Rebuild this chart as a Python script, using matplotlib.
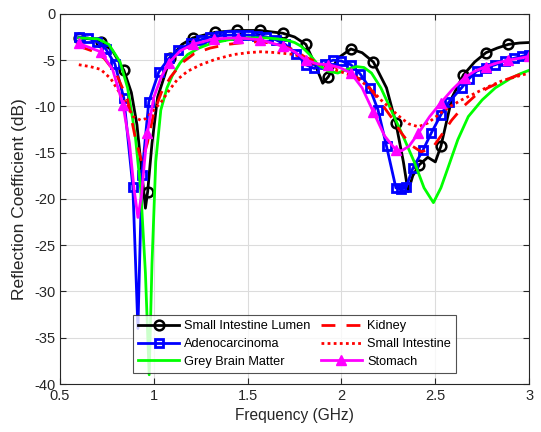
import matplotlib
matplotlib.use("Agg")
import matplotlib.pyplot as plt
import numpy as np

plt.rcParams["font.family"] = ["Liberation Sans", "DejaVu Sans"]
plt.rcParams["axes.unicode_minus"] = False

# Small Intestine Lumen
sil_f = [0.6, 0.66, 0.716, 0.78, 0.84, 0.88, 0.91, 0.935, 0.955, 0.967, 0.99, 1.02,
         1.087, 1.15, 1.208, 1.326, 1.443, 1.565, 1.688, 1.75, 1.81, 1.86, 1.90, 1.93,
         1.98, 2.05, 2.11, 2.17, 2.24, 2.29, 2.33, 2.355, 2.38, 2.415, 2.46, 2.5, 2.53,
         2.59, 2.65, 2.71, 2.77, 2.83, 2.89, 2.95, 3.0]
sil_db = [-2.6, -2.7, -3.0, -4.0, -6.1, -8.5, -12.0, -17.0, -21.0, -19.2, -14.0, -9.0,
          -4.8, -3.3, -2.6, -2.0, -1.8, -1.8, -2.1, -2.5, -3.3, -5.5, -7.5, -6.8,
          -4.8, -3.8, -4.2, -5.2, -8.0, -11.8, -16.0, -19.2, -17.5, -16.3, -15.5, -16.0, -14.3,
          -9.0, -6.6, -5.2, -4.2, -3.7, -3.3, -3.15, -3.1]
sil_marks = [0.6, 0.716, 0.84, 0.967, 1.087, 1.208, 1.326, 1.443, 1.565, 1.688, 1.81,
             1.93, 2.05, 2.17, 2.29, 2.415, 2.53, 2.65, 2.77, 2.89]

# Adenocarcinoma
ade_f = [0.6, 0.648, 0.696, 0.744, 0.792, 0.84, 0.888, 0.915, 0.936, 0.973, 1.026, 1.08,
         1.13, 1.197, 1.25, 1.3, 1.35, 1.4, 1.45, 1.5, 1.55, 1.6, 1.65, 1.7, 1.76, 1.81,
         1.855, 1.91, 1.955, 2.0, 2.05, 2.1, 2.15, 2.195, 2.24, 2.29, 2.315, 2.345, 2.38,
         2.435, 2.478, 2.53, 2.574, 2.64, 2.68, 2.72, 2.77, 2.82, 2.87, 2.92, 2.96, 3.0]
ade_db = [-2.5, -2.6, -3.0, -3.8, -5.4, -9.1, -18.7, -34.0, -17.4, -9.5, -6.3, -4.8,
          -3.9, -3.2, -2.8, -2.5, -2.35, -2.3, -2.3, -2.3, -2.35, -2.5, -2.8, -3.3, -4.3, -5.5,
          -5.9, -5.4, -5.0, -5.1, -5.5, -6.5, -8.0, -10.4, -14.3, -18.8, -18.9, -18.7, -16.7,
          -14.7, -12.9, -10.9, -9.5, -8.0, -7.0, -6.2, -5.8, -5.5, -5.1, -4.8, -4.6, -4.4]
ade_skip = [0.915]

# Grey Brain Matter
gbm_f = [0.6, 0.7, 0.76, 0.82, 0.86, 0.9, 0.93, 0.955, 0.975, 0.99, 1.01, 1.037, 1.07,
         1.10, 1.14, 1.18, 1.24, 1.305, 1.4, 1.5, 1.6, 1.7, 1.75, 1.785, 1.83, 1.875,
         1.93, 1.98, 2.03, 2.08, 2.12, 2.16, 2.21, 2.265, 2.33, 2.39, 2.44, 2.49, 2.53,
         2.57, 2.62, 2.676, 2.75, 2.82, 2.9, 2.95, 3.0]
gbm_db = [-2.6, -2.7, -3.3, -5.2, -8.0, -13.0, -19.0, -28.0, -39.0, -27.0, -16.0, -10.4, -8.0,
          -6.6, -5.3, -4.4, -3.7, -3.2, -2.8, -2.6, -2.6, -2.8, -3.1, -3.5, -4.4, -5.5,
          -6.2, -6.4, -6.0, -5.7, -5.8, -6.4, -8.0, -10.4, -13.3, -16.1, -18.8, -20.4, -18.8,
          -16.5, -13.6, -11.1, -9.3, -8.0, -7.0, -6.5, -6.1]

# Kidney
kid_f = [0.6, 0.67, 0.735, 0.8, 0.86, 0.90, 0.935, 0.965, 1.0, 1.04, 1.09, 1.15, 1.215,
         1.3, 1.395, 1.48, 1.57, 1.66, 1.75, 1.8, 1.88, 1.96, 2.02, 2.085, 2.15, 2.21,
         2.27, 2.32, 2.37, 2.425, 2.46, 2.495, 2.54, 2.587, 2.65, 2.71, 2.78, 2.855, 2.93, 3.0]
kid_db = [-3.5, -4.0, -4.8, -6.5, -9.3, -13.3, -16.0, -14.0, -10.7, -8.5, -6.8, -5.3, -4.3,
          -3.7, -3.3, -3.1, -3.0, -3.3, -3.9, -4.6, -5.3, -5.7, -6.2, -6.9, -8.0, -9.6,
          -11.3, -12.9, -14.2, -14.9, -14.7, -14.2, -12.9, -11.5, -10.0, -8.9, -8.0, -7.3, -6.7, -6.2]

# Small Intestine
si_f = [0.6, 0.66, 0.716, 0.77, 0.82, 0.86, 0.89, 0.93, 0.96, 0.99, 1.04, 1.08, 1.125,
        1.18, 1.25, 1.33, 1.425, 1.5, 1.57, 1.66, 1.75, 1.8, 1.84, 1.89, 1.96, 2.03, 2.1,
        2.16, 2.21, 2.27, 2.32, 2.36, 2.41, 2.46, 2.53, 2.58, 2.64, 2.71, 2.78, 2.86, 2.93, 3.0]
si_db = [-5.5, -5.7, -6.0, -7.0, -8.6, -10.0, -11.1, -11.5, -11.3, -10.6, -9.5, -8.3, -7.1,
         -6.2, -5.5, -4.9, -4.4, -4.2, -4.1, -4.2, -4.4, -4.8, -5.3, -5.5, -6.0, -6.5, -7.2,
         -8.2, -9.3, -10.4, -11.3, -11.9, -12.2, -11.8, -10.7, -10.0, -9.3, -8.6, -7.9, -7.2, -6.8, -6.4]

# Stomach
sto_f = [0.6, 0.716, 0.78, 0.835, 0.87, 0.895, 0.915, 0.935, 0.95, 0.965, 1.0, 1.04, 1.08,
         1.14, 1.208, 1.32, 1.45, 1.565, 1.688, 1.75, 1.81, 1.87, 1.93, 1.99, 2.05, 2.11,
         2.17, 2.23, 2.29, 2.32, 2.36, 2.41, 2.47, 2.53, 2.59, 2.656, 2.71, 2.77, 2.83,
         2.89, 2.95, 3.0]
sto_db = [-3.2, -4.1, -6.0, -9.8, -14.0, -19.0, -22.0, -19.5, -16.0, -12.9, -9.0, -6.8, -5.3,
          -4.0, -3.3, -2.7, -2.6, -2.8, -3.5, -4.1, -5.0, -5.4, -5.5, -5.8, -6.4, -8.0,
          -10.6, -13.2, -14.7, -14.8, -14.3, -12.9, -11.1, -9.6, -8.2, -6.9, -6.2, -5.7, -5.3,
          -5.0, -4.8, -4.6]
sto_marks = [0.6, 0.716, 0.835, 0.965, 1.08, 1.208, 1.32, 1.45, 1.565, 1.688, 1.81, 1.93,
             2.05, 2.17, 2.29, 2.41, 2.53, 2.656, 2.77, 2.89, 3.0]


def idx_of(xs, picks):
    xs = np.round(np.asarray(xs), 3)
    return [i for i, v in enumerate(xs) if v in np.round(picks, 3)]


fig = plt.figure(figsize=(5.41, 4.32), dpi=100)
ax = fig.add_axes([0.111, 0.111, 0.867, 0.857])

ax.plot(sil_f, sil_db, color="k", lw=2, marker="o", ms=7, mfc="none", mew=1.8,
        markevery=idx_of(sil_f, sil_marks), label="Small Intestine Lumen")
ax.plot(ade_f, ade_db, color="#0000ff", lw=2, marker="s", ms=6, mfc="none", mew=2,
        markevery=[i for i in range(len(ade_f)) if i not in idx_of(ade_f, ade_skip)],
        label="Adenocarcinoma")
ax.plot(gbm_f, gbm_db, color="#00ff00", lw=2, label="Grey Brain Matter")
ax.plot(kid_f, kid_db, color="#ff0000", lw=2, ls=(0, (5, 4)), label="Kidney")
ax.plot(si_f, si_db, color="#ff0000", lw=2, ls=(0, (1, 1.2)), label="Small Intestine")
ax.plot(sto_f, sto_db, color="#ff00ff", lw=2, marker="^", ms=7.5,
        markevery=idx_of(sto_f, sto_marks), label="Stomach")

ax.set_xlim(0.5, 3)
ax.set_ylim(-40, 0)
ax.set_xticks([0.5, 1, 1.5, 2, 2.5, 3])
ax.set_xticklabels(["0.5", "1", "1.5", "2", "2.5", "3"])
ax.set_yticks(np.arange(-40, 1, 5))
ax.tick_params(direction="in", top=True, right=True, labelsize=10.5, colors="#262626",
               length=4)
for s in ax.spines.values():
    s.set_color("#262626")
    s.set_linewidth(0.8)
ax.grid(True, color="#dcdcdc", lw=0.8)
ax.set_axisbelow(True)
ax.set_xlabel("Frequency (GHz)", fontsize=11.2, color="#262626")
ax.set_ylabel("Reflection Coefficient (dB)", fontsize=12.5, color="#262626", labelpad=5)

leg = ax.legend(ncol=2, loc="lower center", bbox_to_anchor=(0.5, 0.013),
                fontsize=9.2, frameon=True, fancybox=False, edgecolor="#262626",
                handlelength=3.2, columnspacing=0.8, labelspacing=0.45,
                borderpad=0.4, handletextpad=0.4)
leg.get_frame().set_linewidth(0.8)

fig.savefig("out.png", dpi=100)
